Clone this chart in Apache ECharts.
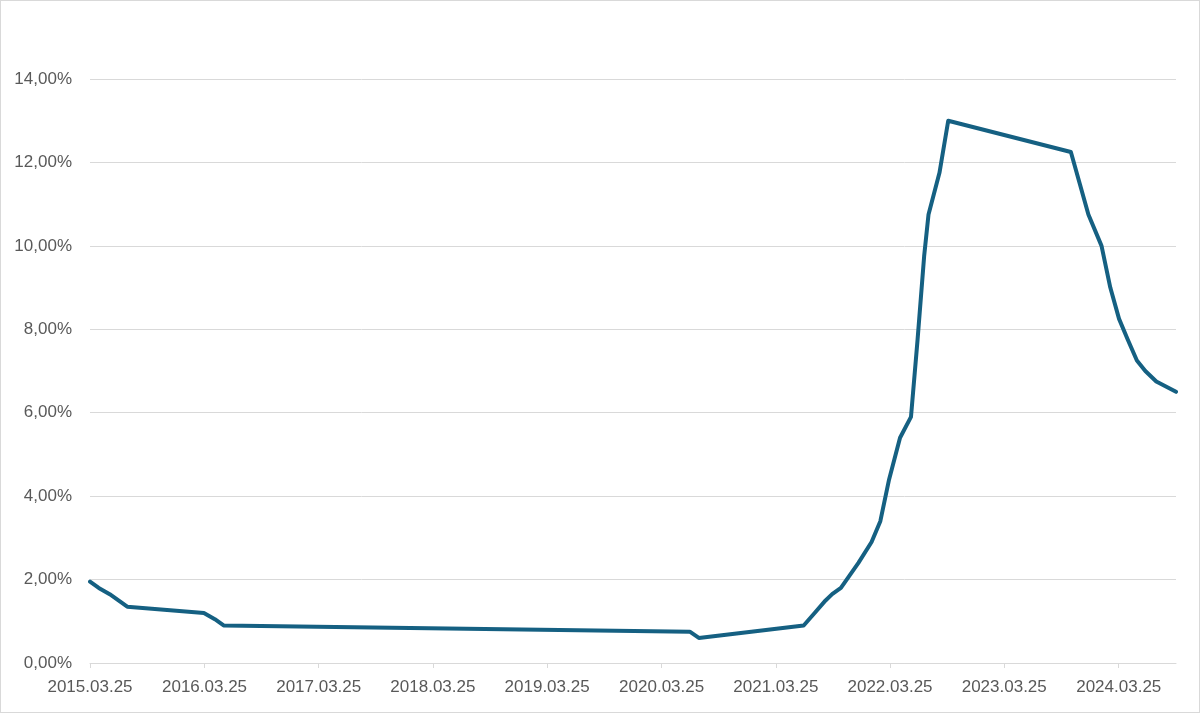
<!DOCTYPE html>
<html>
<head>
<meta charset="utf-8">
<script src="https://cdn.jsdelivr.net/npm/echarts@6/dist/echarts.min.js"></script>
<style>
  html, body { margin: 0; padding: 0; background: #fff; }
  #wrap { width: 1200px; height: 713px; box-sizing: border-box; border: 1px solid #d9d9d9; }
  #chart { width: 1198px; height: 711px; }
</style>
</head>
<body>
<div id="wrap"><div id="chart"></div></div>
<script>
// kamatdöntések dátuma és értéke (%)
const dates = [
  '2015.03.25', '2015.04.22', '2015.05.27', '2015.06.24', '2015.07.22',
  '2016.03.23', '2016.04.27', '2016.05.25',
  '2020.06.23', '2020.07.22',
  '2021.06.22', '2021.07.27', '2021.08.31', '2021.09.21', '2021.10.19', '2021.11.16', '2021.12.14',
  '2022.01.25', '2022.02.22', '2022.03.22', '2022.04.26', '2022.05.31', '2022.06.21', '2022.07.12',
  '2022.07.26', '2022.08.30', '2022.09.27',
  '2023.10.24', '2023.11.21', '2023.12.19',
  '2024.01.30', '2024.02.27', '2024.03.26', '2024.04.23', '2024.05.22', '2024.06.18', '2024.07.23',
  '2024.09.24'
]
const rates = [
  1.95, 1.80, 1.65, 1.50, 1.35,
  1.20, 1.05, 0.90,
  0.75, 0.60,
  0.90, 1.20, 1.50, 1.65, 1.80, 2.10, 2.40,
  2.90, 3.40, 4.40, 5.40, 5.90, 7.75, 9.75,
  10.75, 11.75, 13.00,
  12.25, 11.50, 10.75,
  10.00, 9.00, 8.25, 7.75, 7.25, 7.00, 6.75,
  6.50
]
// x tengely feliratai
const tickLabels = [
  '2015.03.25', '2016.03.25', '2017.03.25', '2018.03.25', '2019.03.25',
  '2020.03.25', '2021.03.25', '2022.03.25', '2023.03.25', '2024.03.25'
]

// napok száma az első dátumtól
const DAY = 86400000
const toTime = s => {
  const [y, m, d] = s.split('.').map(Number)
  return Date.UTC(y, m - 1, d)
}
const base = toTime(dates[0])
const toDay = s => Math.round((toTime(s) - base) / DAY)
const tickDays = tickLabels.map(toDay)
const seriesData = dates.map((d, i) => [toDay(d), rates[i]])

const chart = echarts.init(document.getElementById('chart'))
chart.setOption({
  animation: false,
  grid: { left: 89, right: 23, top: 78, bottom: 49, outerBoundsMode: 'none' },
  xAxis: {
    type: 'value',
    min: 0,
    max: toDay(dates[dates.length - 1]),
    axisLine: { show: true, lineStyle: { color: '#d9d9d9', width: 1 } },
    axisTick: { show: true, length: 5, lineStyle: { color: '#d9d9d9' }, customValues: tickDays },
    splitLine: { show: false },
    axisLabel: {
      customValues: tickDays,
      margin: 16,
      color: '#595959',
      fontSize: 17,
      fontFamily: 'Liberation Sans',
      formatter: v => {
        const i = tickDays.indexOf(v)
        return i >= 0 ? tickLabels[i] : ''
      }
    }
  },
  yAxis: {
    type: 'value',
    min: 0,
    max: 14,
    interval: 2,
    axisLine: { show: false },
    axisTick: { show: false },
    splitLine: { lineStyle: { color: '#d9d9d9', width: 1 } },
    axisLabel: {
      margin: 18,
      color: '#595959',
      fontSize: 17,
      fontFamily: 'Liberation Sans',
      formatter: v => v.toFixed(2).replace('.', ',') + '%'
    }
  },
  series: [{
    type: 'line',
    data: seriesData,
    showSymbol: false,
    symbol: 'none',
    lineStyle: { color: '#156082', width: 4, join: 'round', cap: 'round' }
  }]
})
</script>
</body>
</html>
